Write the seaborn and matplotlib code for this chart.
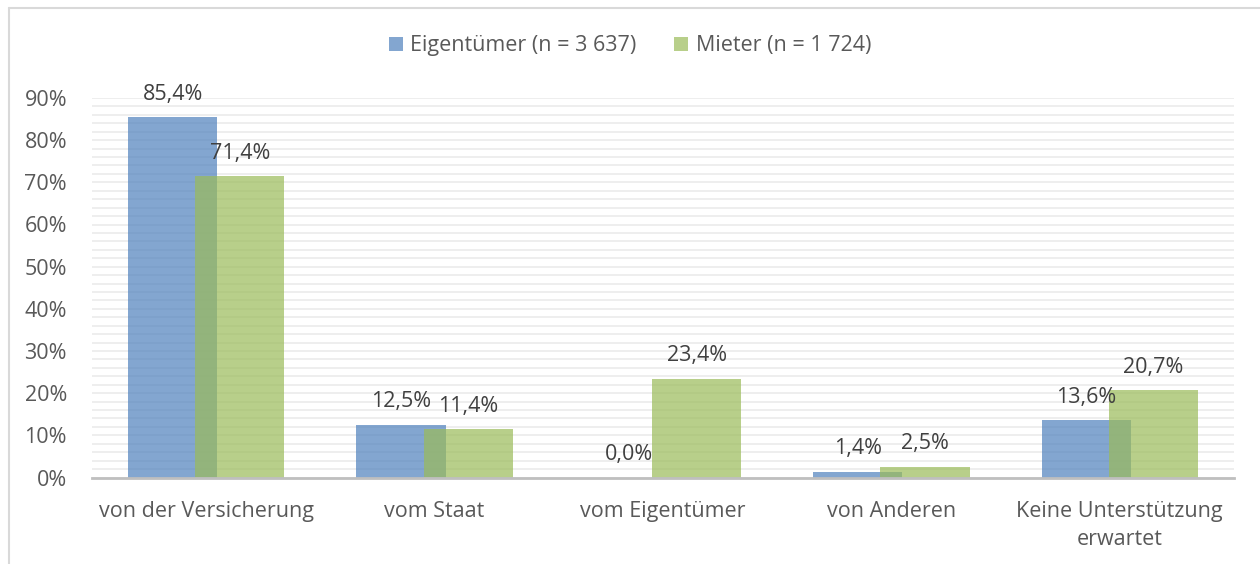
import pandas as pd
import matplotlib
matplotlib.use("Agg")
import matplotlib.pyplot as plt
import seaborn as sns
from matplotlib.ticker import PercentFormatter, MultipleLocator
from matplotlib.patches import Patch
from matplotlib.lines import Line2D

# Daten
kategorien = ["von der Versicherung", "vom Staat", "vom Eigentümer",
              "von Anderen", "Keine Unterstützung\nerwartet"]
eigentuemer = [85.4, 12.5, 0.0, 1.4, 13.6]
mieter = [71.4, 11.4, 23.4, 2.5, 20.7]
gruppen = ["Eigentümer (n = 3 637)", "Mieter (n = 1 724)"]

df = pd.DataFrame({
    "Kategorie": kategorien * 2,
    "Anteil": eigentuemer + mieter,
    "Gruppe": [gruppen[0]] * len(kategorien) + [gruppen[1]] * len(kategorien),
})

farben = ["#4F81BD", "#9BBB59"]
text_grau = "#595959"
label_grau = "#404040"
schrift = 15.5

sns.set_style("white")
plt.rcParams["font.family"] = ["Open Sans", "DejaVu Sans"]

fig = plt.figure(figsize=(12.6, 5.64), dpi=100)
ax = fig.add_axes([92 / 1260, 1 - 477.5 / 564, 1142 / 1260, 379.5 / 564])

sns.barplot(data=df, x="Kategorie", y="Anteil", hue="Gruppe", palette=farben,
            saturation=1, width=0.78, alpha=0.7, dodge=True, ax=ax, legend=False)

# Balken ueberlappen lassen (wie im Excel-Original)
verschiebung = [0.048, -0.048]
for container, dx in zip(ax.containers, verschiebung):
    for balken in container:
        balken.set_x(balken.get_x() + dx)
        balken.set_linewidth(0)

for container, werte in zip(ax.containers, [eigentuemer, mieter]):
    texte = [f"{v:.1f}%".replace(".", ",") for v in werte]
    ax.bar_label(container, labels=texte, padding=9, fontsize=schrift, color=label_grau)

ax.set_ylim(0, 90)
ax.set_xlim(-0.5, len(kategorien) - 0.5)
ax.yaxis.set_major_locator(MultipleLocator(10))
ax.yaxis.set_minor_locator(MultipleLocator(2))
ax.yaxis.set_major_formatter(PercentFormatter(decimals=0))
ax.grid(axis="y", which="both", color="#EEEEEE", linewidth=1.4)
ax.set_axisbelow(True)

for seite in ["top", "right", "left"]:
    ax.spines[seite].set_visible(False)
ax.spines["bottom"].set_color("#BFBFBF")
ax.spines["bottom"].set_linewidth(2)

ax.tick_params(axis="y", length=0, pad=18, labelsize=schrift, labelcolor=text_grau)
ax.tick_params(axis="x", length=0, pad=17, labelsize=schrift, labelcolor=text_grau)
for lbl in ax.get_xticklabels():
    lbl.set_linespacing(1.45)
ax.set_xlabel("")
ax.set_ylabel("")

griffe = [Patch(facecolor=f, alpha=0.7, edgecolor="none") for f in farben]
fig.legend(griffe, gruppen, loc="center", bbox_to_anchor=(0.5, 1 - 46 / 564),
           ncol=2, frameon=False, fontsize=schrift, labelcolor=text_grau,
           handlelength=0.65, handleheight=0.65, handletextpad=0.35,
           columnspacing=1.75)

# Rahmen des Diagrammbereichs
y_oben = 1 - 7.5 / 564
x_links = 8.5 / 1260
fig.add_artist(Line2D([x_links, 1], [y_oben, y_oben], transform=fig.transFigure,
                      color="#D9D9D9", linewidth=1.5))
fig.add_artist(Line2D([x_links, x_links], [0, y_oben], transform=fig.transFigure,
                      color="#D9D9D9", linewidth=1.5))

fig.savefig("out.png", dpi=100)
